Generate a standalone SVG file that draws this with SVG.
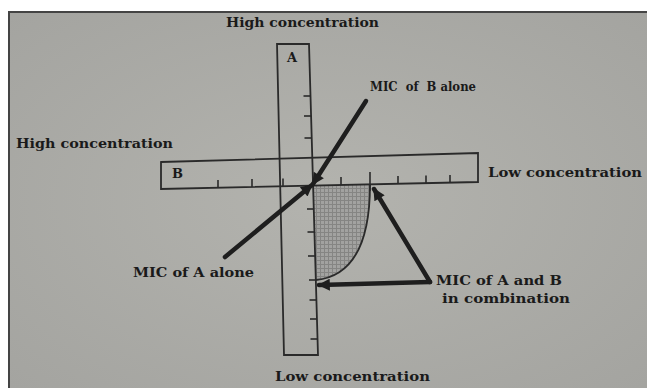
<svg xmlns="http://www.w3.org/2000/svg" width="647" height="388" viewBox="0 0 647 388">
<style>
.t{font-family:"DejaVu Serif","Liberation Serif",serif;font-weight:bold;font-size:13px;fill:#1a1a1a}
.strip{fill:none;stroke:#2a2a2a;stroke-width:1.8}
.tick{stroke:#2a2a2a;stroke-width:1.6}
.arr{fill:none;stroke:#1e1e1e;stroke-width:4.5;stroke-linecap:round}
</style>
<defs>
<radialGradient id="bg" cx="0.5" cy="0.5" r="0.7">
<stop offset="0" stop-color="#b3b3ae"/>
<stop offset="1" stop-color="#a4a4a0"/>
</radialGradient>
<pattern id="dots" width="4" height="4" patternUnits="userSpaceOnUse">
<rect width="4" height="4" fill="#a2a2a0"/>
<path d="M0 0.5H4M0.5 0V4" stroke="#858583" stroke-width="1"/>
</pattern>
<marker id="ah" viewBox="0 0 10 10" refX="9" refY="5" markerWidth="18" markerHeight="12" markerUnits="userSpaceOnUse" orient="auto">
<path d="M0 0L10 5L0 10Z" fill="#1e1e1e"/>
</marker>
</defs>
<rect width="647" height="388" fill="#ffffff"/>
<rect x="9" y="12" width="638" height="376" fill="url(#bg)"/>
<path d="M9 388V12H647" fill="none" stroke="#444" stroke-width="2"/>

<g id="shaded">
<path d="M313 185.6L370 184.4C370 240 355 276 316 280L313 185.6Z" fill="url(#dots)"/>
<path d="M370 184.4C370 240 355 276 316 280" fill="none" stroke="#2a2a2a" stroke-width="1.8"/>
</g>

<g id="stripA">
<polygon class="strip" points="277,44 309,44 318,355 284,355"/>
<text class="t" x="287" y="62">A</text>
<g class="tick">
<line x1="303.5" y1="96" x2="310.5" y2="96"/>
<line x1="304" y1="116" x2="311" y2="116"/>
<line x1="304.5" y1="138" x2="311.5" y2="138"/>
<line x1="307" y1="209" x2="314" y2="209"/>
<line x1="307.5" y1="232" x2="314.5" y2="232"/>
<line x1="308" y1="256" x2="315" y2="256"/>
<line x1="309" y1="280" x2="316" y2="280"/>
<line x1="309.5" y1="300" x2="316.5" y2="300"/>
<line x1="310" y1="319" x2="317" y2="319"/>
<line x1="310.5" y1="339" x2="317.5" y2="339"/>
</g>
</g>

<g id="stripB">
<polygon class="strip" points="161,162 478,153 478,182 161,189"/>
<text class="t" x="172" y="178">B</text>
<g class="tick">
<line x1="218" y1="180" x2="218" y2="187.7"/>
<line x1="252" y1="179" x2="252" y2="187"/>
<line x1="283" y1="178.5" x2="283" y2="186.3"/>
<line x1="341" y1="177" x2="341" y2="185"/>
<line x1="370" y1="172" x2="370" y2="191"/>
<line x1="398" y1="176" x2="398" y2="183.8"/>
<line x1="426" y1="175.5" x2="426" y2="183.1"/>
<line x1="450" y1="175" x2="450" y2="182.6"/>
</g>
</g>

<g id="connectors">
<path class="arr" d="M366 101L313 184" marker-end="url(#ah)"/>
<path class="arr" d="M225 257L312 185" marker-end="url(#ah)"/>
<path class="arr" d="M430 282L374 189" marker-end="url(#ah)"/>
<path class="arr" d="M430 282L319 285" marker-end="url(#ah)"/>
</g>

<g id="labels">
<text class="t" x="226" y="27" textLength="153" lengthAdjust="spacingAndGlyphs">High concentration</text>
<text class="t" x="16" y="148" textLength="157" lengthAdjust="spacingAndGlyphs">High concentration</text>
<text class="t" x="488" y="177" textLength="154" lengthAdjust="spacingAndGlyphs">Low concentration</text>
<text class="t" x="275" y="381" textLength="155" lengthAdjust="spacingAndGlyphs">Low concentration</text>
<text class="t" x="370" y="91" textLength="106" lengthAdjust="spacingAndGlyphs" xml:space="preserve">MIC  of  B alone</text>
<text class="t" x="133" y="277" textLength="121" lengthAdjust="spacingAndGlyphs">MIC of A alone</text>
<text class="t" x="436" y="285" textLength="126" lengthAdjust="spacingAndGlyphs">MIC of A and B</text>
<text class="t" x="442" y="303" textLength="128" lengthAdjust="spacingAndGlyphs">in combination</text>
</g>
</svg>
